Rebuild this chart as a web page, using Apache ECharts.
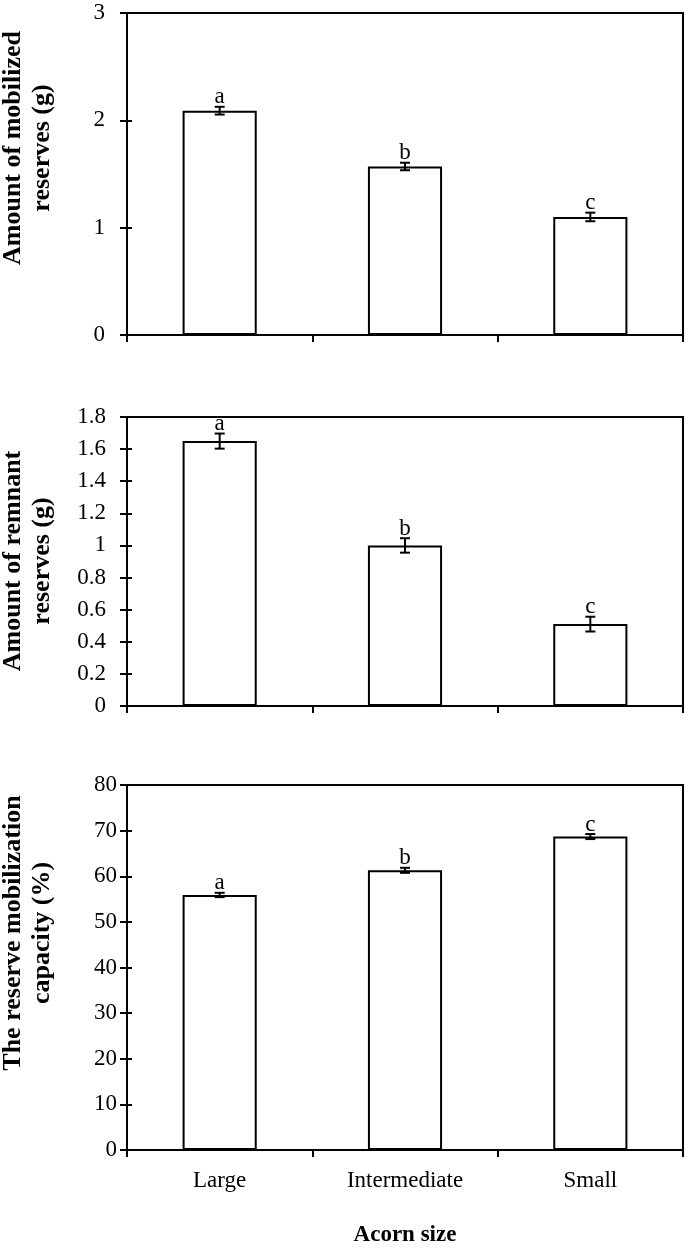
<!DOCTYPE html>
<html>
<head>
<meta charset="utf-8">
<script src="https://cdn.jsdelivr.net/npm/echarts@6/dist/echarts.min.js"></script>
<style>
html,body{margin:0;padding:0;background:#fff;}
#c{width:685px;height:1248px;}
</style>
</head>
<body>
<div id="c"></div>
<script>
var categories = ['Large', 'Intermediate', 'Small'];
var mobilized = [2.09, 1.57, 1.10];
var mobilizedErr = [0.036, 0.035, 0.04];
var remnant = [1.65, 1.00, 0.51];
var remnantErr = [0.047, 0.045, 0.046];
var capacity = [55.9, 61.3, 68.7];
var capacityErr = [0.47, 0.55, 0.55];
var letters = ['a', 'b', 'c'];

var FONT = '"Liberation Serif", "Times New Roman", serif';
var chart = echarts.init(document.getElementById('c'));

var panels = [
  {vals: mobilized, errs: mobilizedErr, min: 0, max: 3, interval: 1, top: 13, height: 322, labelMargin: 22,
   title: 'Amount of mobilized\nreserves (g)', titleY: 148, showX: false},
  {vals: remnant, errs: remnantErr, min: 0, max: 1.8, interval: 0.2, top: 417, height: 289, labelMargin: 21,
   title: 'Amount of remnant\nreserves (g)', titleY: 561, showX: false},
  {vals: capacity, errs: capacityErr, min: 0, max: 80, interval: 10, top: 785, height: 366, labelMargin: 10,
   title: 'The reserve mobilization\ncapacity (%)', titleY: 933, showX: true}
];

var grids = [], xAxes = [], yAxes = [], series = [], graphics = [];
panels.forEach(function (p, i) {
  grids.push({left: 127, right: 2, top: p.top, height: p.height, show: true,
    borderColor: '#000', borderWidth: 2, backgroundColor: 'transparent'});
  xAxes.push({
    type: 'category', gridIndex: i, data: categories,
    axisLine: {lineStyle: {color: '#000', width: 2}},
    axisTick: {show: true, length: 7, lineStyle: {color: '#000', width: 2}},
    axisLabel: {show: p.showX, color: '#000', fontFamily: FONT, fontSize: 23, margin: 19},
    name: p.showX ? 'Acorn size' : '',
    nameLocation: 'middle', nameGap: 74,
    nameTextStyle: {color: '#000', fontFamily: FONT, fontSize: 23, fontWeight: 'bold'}
  });
  yAxes.push({
    type: 'value', gridIndex: i, min: p.min, max: p.max, interval: p.interval,
    axisLine: {show: true, lineStyle: {color: '#000', width: 2}},
    axisTick: {show: true, length: 7, lineStyle: {color: '#000', width: 2}},
    axisLabel: {color: '#000', fontFamily: FONT, fontSize: 23, margin: p.labelMargin},
    splitLine: {show: false}
  });
  yAxes.push({
    type: 'value', gridIndex: i, min: p.min, max: p.max, interval: p.interval, position: 'left',
    axisLine: {show: false},
    axisTick: {show: true, inside: true, length: 5, lineStyle: {color: '#000', width: 2}},
    axisLabel: {show: false},
    splitLine: {show: false}
  });
  series.push({
    type: 'bar', xAxisIndex: i, yAxisIndex: i * 2, data: p.vals, barWidth: '40%',
    itemStyle: {color: '#fff', borderColor: '#000', borderWidth: 2},
    silent: true, animation: false
  });
  var errData = p.vals.map(function (v, k) { return [k, v, p.errs[k], letters[k]]; });
  series.push({
    type: 'custom', xAxisIndex: i, yAxisIndex: i * 2, data: errData, animation: false, z: 5,
    renderItem: function (params, api) {
      var k = api.value(0), v = api.value(1), e = api.value(2);
      var hi = api.coord([k, v + e]);
      var lo = api.coord([k, v - e]);
      var cap = 5;
      var ls = {stroke: '#000', lineWidth: 2};
      return {
        type: 'group',
        children: [
          {type: 'line', shape: {x1: hi[0], y1: hi[1], x2: lo[0], y2: lo[1]}, style: ls},
          {type: 'line', shape: {x1: hi[0] - cap, y1: hi[1], x2: hi[0] + cap, y2: hi[1]}, style: ls},
          {type: 'line', shape: {x1: lo[0] - cap, y1: lo[1], x2: lo[0] + cap, y2: lo[1]}, style: ls},
          {type: 'text', x: hi[0], y: hi[1] + 2, style: {
            text: errData[params.dataIndex][3], fill: '#000',
            font: '23px ' + FONT, align: 'center', verticalAlign: 'bottom'}}
        ]
      };
    }
  });
  graphics.push({
    type: 'text', x: 28, y: p.titleY, rotation: Math.PI / 2,
    style: {text: p.title, fill: '#000', font: 'bold 26px ' + FONT,
      align: 'center', verticalAlign: 'middle', lineHeight: 29}
  });
});

chart.setOption({
  animation: false,
  backgroundColor: '#fff',
  grid: grids,
  xAxis: xAxes,
  yAxis: yAxes,
  series: series,
  graphic: graphics
});
</script>
</body>
</html>
